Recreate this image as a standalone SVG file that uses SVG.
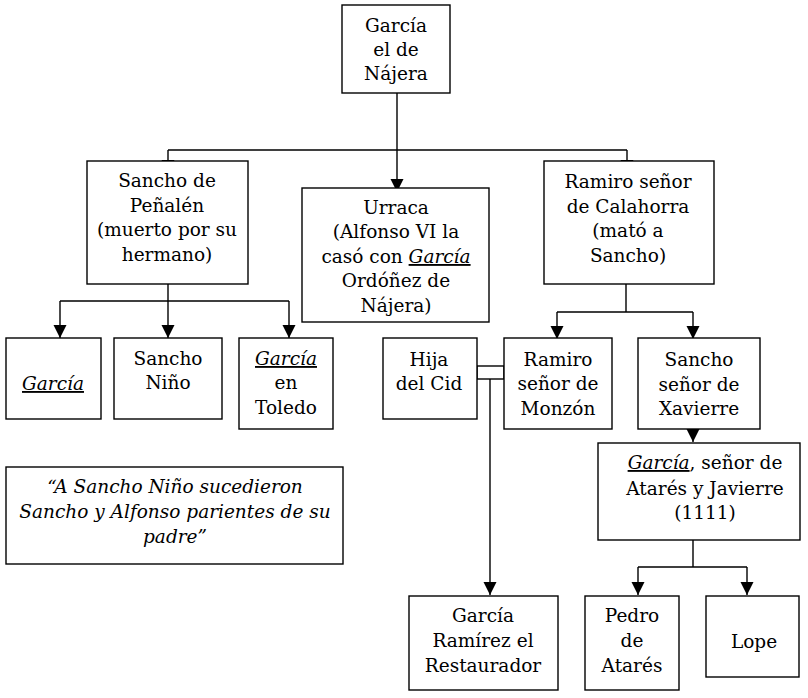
<svg xmlns="http://www.w3.org/2000/svg" width="808" height="698" viewBox="0 0 808 698">
<style>
.box{fill:#fff;stroke:#000;stroke-width:1.4}
text{font-family:'DejaVu Serif',serif;font-size:18.5px;fill:#000;text-anchor:middle}
.i{font-style:italic}
.u{font-style:italic;text-decoration:underline}
.ln{fill:none;stroke:#000;stroke-width:1.4}
</style>
<defs>
<marker id="ah" markerUnits="userSpaceOnUse" markerWidth="14" markerHeight="14" refX="13" refY="6.5" orient="auto">
<path d="M0,0 L13,6.5 L0,13 z" fill="#000"/>
</marker>
</defs>
<rect width="808" height="698" fill="#fff"/>
<g id="connectors">
<path class="ln" d="M397,93 V150 M168,150 H627"/>
<path class="ln" d="M168,150 V173" marker-end="url(#ah)"/>
<path class="ln" d="M397,150 V192" marker-end="url(#ah)"/>
<path class="ln" d="M627,150 V173" marker-end="url(#ah)"/>
<path class="ln" d="M168,284 V301 M60,301 H289"/>
<path class="ln" d="M60,301 V338" marker-end="url(#ah)"/>
<path class="ln" d="M168,301 V338" marker-end="url(#ah)"/>
<path class="ln" d="M289,301 V338" marker-end="url(#ah)"/>
<path class="ln" d="M626,284 V312 M557,312 H693"/>
<path class="ln" d="M557,312 V339" marker-end="url(#ah)"/>
<path class="ln" d="M693,312 V339" marker-end="url(#ah)"/>
<path class="ln" d="M693,429 V442" marker-end="url(#ah)"/>
<path class="ln" d="M693,540 V567 M638,567 H747"/>
<path class="ln" d="M638,567 V595" marker-end="url(#ah)"/>
<path class="ln" d="M747,567 V595" marker-end="url(#ah)"/>
<rect class="ln" x="477" y="366" width="27" height="13"/>
<path class="ln" d="M490,379 V595" marker-end="url(#ah)"/>
</g>
<g id="garcia-najera">
<rect class="box" x="342" y="5" width="108" height="88"/>
<text x="396" y="32">García</text>
<text x="396" y="56">el de</text>
<text x="396" y="80">Nájera</text>
</g>
<g id="sancho-penalen">
<rect class="box" x="87" y="161" width="161" height="123"/>
<text x="167" y="187">Sancho de</text>
<text x="167" y="212">Peñalén</text>
<text x="167" y="236">(muerto por su</text>
<text x="167" y="261">hermano)</text>
</g>
<g id="urraca">
<rect class="box" x="302" y="188" width="187" height="134"/>
<text x="396" y="214">Urraca</text>
<text x="396" y="238">(Alfonso VI la</text>
<text x="396" y="263">casó con <tspan class="u">García</tspan></text>
<text x="396" y="287">Ordóñez de</text>
<text x="396" y="312">Nájera)</text>
</g>
<g id="ramiro-calahorra">
<rect class="box" x="544" y="161" width="170" height="123"/>
<text x="628" y="188">Ramiro señor</text>
<text x="628" y="213">de Calahorra</text>
<text x="628" y="237">(mató a</text>
<text x="628" y="262">Sancho)</text>
</g>
<g id="garcia-1">
<rect class="box" x="6" y="338" width="95" height="81"/>
<text x="53" y="390"><tspan class="u">García</tspan></text>
</g>
<g id="sancho-nino">
<rect class="box" x="114" y="338" width="108" height="81"/>
<text x="168" y="365">Sancho</text>
<text x="168" y="389">Niño</text>
</g>
<g id="garcia-toledo">
<rect class="box" x="239" y="338" width="94" height="91"/>
<text x="286" y="365"><tspan class="u">García</tspan></text>
<text x="286" y="389">en</text>
<text x="286" y="414">Toledo</text>
</g>
<g id="quote">
<rect class="box" x="6" y="467" width="337" height="97"/>
<text class="i" x="175" y="493">“A Sancho Niño sucedieron</text>
<text class="i" x="175" y="518">Sancho y Alfonso parientes de su</text>
<text class="i" x="175" y="543">padre”</text>
</g>
<g id="hija-cid">
<rect class="box" x="383" y="338" width="94" height="81"/>
<text x="429" y="366">Hija</text>
<text x="429" y="390">del Cid</text>
</g>
<g id="ramiro-monzon">
<rect class="box" x="504" y="338" width="108" height="91"/>
<text x="558" y="366">Ramiro</text>
<text x="558" y="390">señor de</text>
<text x="558" y="415">Monzón</text>
</g>
<g id="sancho-xavierre">
<rect class="box" x="638" y="338" width="122" height="91"/>
<text x="699" y="366">Sancho</text>
<text x="699" y="391">señor de</text>
<text x="699" y="415">Xavierre</text>
</g>
<g id="garcia-atares">
<rect class="box" x="598" y="443" width="202" height="97"/>
<text x="705" y="469"><tspan class="u">García</tspan>, señor de</text>
<text x="705" y="495">Atarés y Javierre</text>
<text x="705" y="519">(1111)</text>
</g>
<g id="garcia-ramirez">
<rect class="box" x="409" y="596" width="149" height="94"/>
<text x="483" y="622">García</text>
<text x="483" y="647">Ramírez el</text>
<text x="483" y="672">Restaurador</text>
</g>
<g id="pedro-atares">
<rect class="box" x="585" y="596" width="94" height="94"/>
<text x="632" y="622">Pedro</text>
<text x="632" y="647">de</text>
<text x="632" y="672">Atarés</text>
</g>
<g id="lope">
<rect class="box" x="706" y="596" width="93" height="81"/>
<text x="754" y="648">Lope</text>
</g>
</svg>
